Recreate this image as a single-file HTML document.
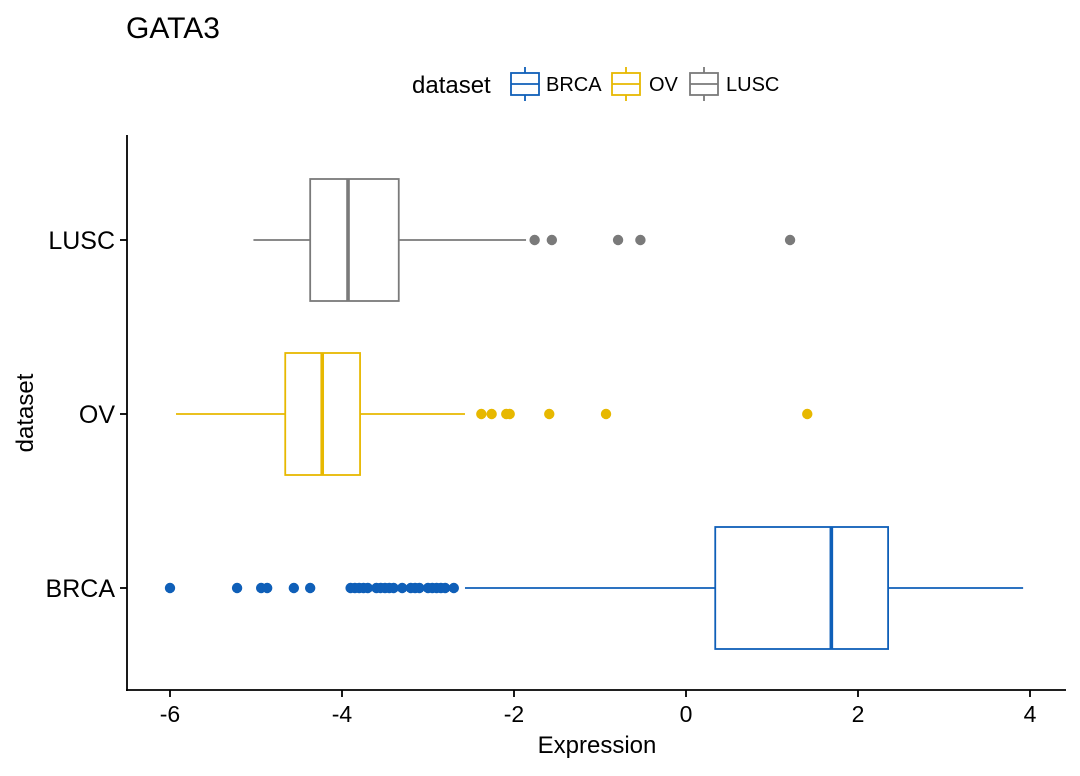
<!DOCTYPE html>
<html><head><meta charset="utf-8"><style>
body{margin:0;background:#fff;}
svg text{font-family:"Liberation Sans",Arial,sans-serif;}
</style></head><body>
<svg id="chart" width="1080" height="771" xmlns="http://www.w3.org/2000/svg">
<text x="126" y="38" font-size="30" fill="#000">GATA3</text>
<g id="legend"></g>
<g id="plot"></g>
<line x1="127" y1="135" x2="127" y2="691" stroke="#000" stroke-width="1.8"/>
<line x1="126" y1="690" x2="1066" y2="690" stroke="#000" stroke-width="1.8"/>
<text x="597" y="753" font-size="24" text-anchor="middle">Expression</text>
<text transform="translate(33,413) rotate(-90)" font-size="24" text-anchor="middle">dataset</text>
</svg>
<script>
const categories=["BRCA","OV","LUSC"];
const colors=["#0F5FB8","#E7B800","#7A7A7A"];
const q1=[0.34,-4.66,-4.37];
const medians=[1.69,-4.23,-3.93];
const q3=[2.35,-3.79,-3.34];
const whiskerLow=[-2.57,-5.93,-5.03];
const whiskerHigh=[3.92,-2.57,-1.86];
const outliersBRCA=[-6.0,-5.22,-4.94,-4.87,-4.56,-4.37,-3.9,-3.85,-3.8,-3.75,-3.7,-3.6,-3.55,-3.5,-3.45,-3.4,-3.3,-3.2,-3.15,-3.1,-3.0,-2.95,-2.9,-2.85,-2.8,-2.7];
const outliersOV=[-2.38,-2.26,-2.09,-2.05,-1.59,-0.93,1.41];
const outliersLUSC=[-1.76,-1.56,-0.79,-0.53,1.21];
const xTicks=[-6,-4,-2,0,2,4];
const NS="http://www.w3.org/2000/svg";
const X=v=>686+v*86;
const Y=i=>588-i*174;
function mk(tag,attrs,parent,text){const e=document.createElementNS(NS,tag);for(const k in attrs)e.setAttribute(k,attrs[k]);if(text!==undefined)e.textContent=text;parent.appendChild(e);return e;}
const plot=document.getElementById('plot');
const svg=document.getElementById('chart');
const outs=[outliersBRCA,outliersOV,outliersLUSC];
categories.forEach((c,i)=>{
  const y=Y(i),c0=colors[i],h=61;
  const g=mk('g',{},plot);
  
  
  mk('line',{x1:X(whiskerLow[i]),x2:X(q1[i]),y1:y,y2:y,stroke:c0,'stroke-width':1.8},g);
  mk('line',{x1:X(q3[i]),x2:X(whiskerHigh[i]),y1:y,y2:y,stroke:c0,'stroke-width':1.8},g);
  mk('rect',{x:X(q1[i]),y:y-h,width:X(q3[i])-X(q1[i]),height:2*h,fill:'#fff',stroke:c0,'stroke-width':1.8},g);
  mk('line',{x1:X(medians[i]),x2:X(medians[i]),y1:y-h,y2:y+h,stroke:c0,'stroke-width':3.6},g);
  outs[i].forEach(v=>{
    const p=mk('circle',{cx:X(v),cy:y,r:5.2,fill:c0},g);
    
    
  });
  mk('line',{x1:120,x2:127,y1:y,y2:y,stroke:'#000','stroke-width':1.8},svg);
  const t=mk('text',{x:115,y:y+9,'font-size':25,'text-anchor':'end'},svg,c);
  
  
});
xTicks.forEach(v=>{
  mk('line',{x1:X(v),x2:X(v),y1:690,y2:697,stroke:'#000','stroke-width':1.8},svg);
  const t=mk('text',{x:X(v),y:722,'font-size':23,'text-anchor':'middle'},svg,String(v));
  
  
});
const lg=document.getElementById('legend');
mk('text',{x:412,y:93,'font-size':24},lg,'dataset');
const kx=[511,612,690],tx=[546,649,726];
categories.forEach((c,i)=>{
  const e=mk('g',{},lg);
  
  
  mk('line',{x1:kx[i]+14,x2:kx[i]+14,y1:67,y2:101,stroke:colors[i],'stroke-width':1.8},e);
  mk('rect',{x:kx[i],y:73,width:28,height:22,fill:'#fff',stroke:colors[i],'stroke-width':1.8},e);
  mk('line',{x1:kx[i],x2:kx[i]+28,y1:84,y2:84,stroke:colors[i],'stroke-width':1.8},e);
  mk('text',{x:tx[i],y:91,'font-size':20},e,c);
});
</script>
</body></html>
